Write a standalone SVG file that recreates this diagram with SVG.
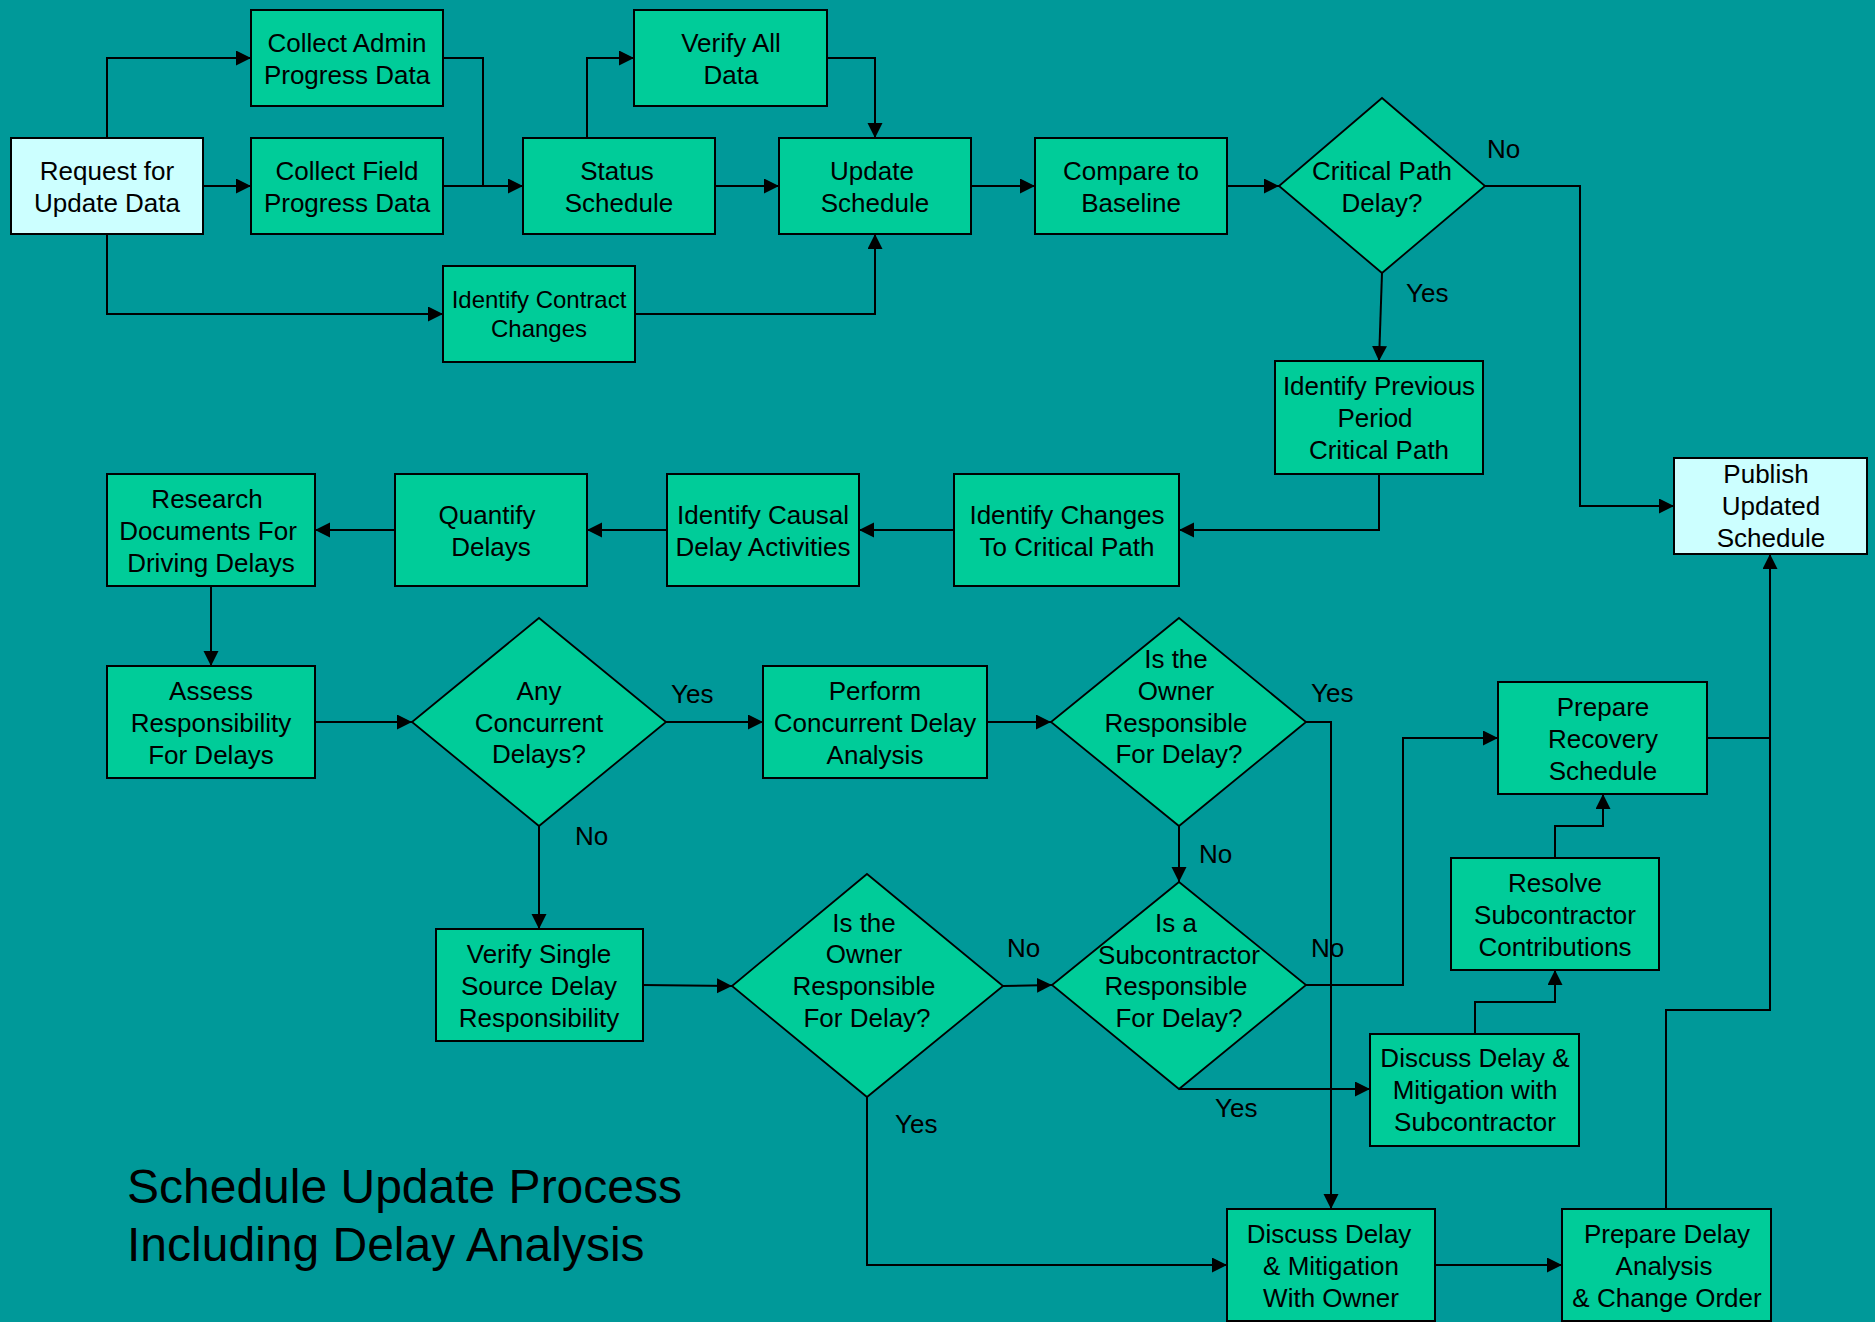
<svg xmlns="http://www.w3.org/2000/svg" width="1875" height="1322" viewBox="0 0 1875 1322">
<defs>
<marker id="ah" markerUnits="userSpaceOnUse" markerWidth="16" markerHeight="16" refX="15" refY="7.5" orient="auto">
<path d="M0,0 L15,7.5 L0,15 z" fill="#000"/>
</marker>
<style>
.box{fill:#00CC99;stroke:#000;stroke-width:2}
.lt{fill:#CCFFFF;stroke:#000;stroke-width:2}
.dia{fill:#00CC99;stroke:#000;stroke-width:1.8}
.t{font-family:"Liberation Sans",Arial,sans-serif;font-size:26px;fill:#000;text-anchor:middle}
.s{font-size:24px}
.lbl{font-family:"Liberation Sans",Arial,sans-serif;font-size:26px;fill:#000}
.title{font-family:"Liberation Sans",Arial,sans-serif;font-size:48px;fill:#000}
#connectors path{fill:none;stroke:#000;stroke-width:2}
#connectors path.a{marker-end:url(#ah)}
</style>
</defs>
<rect width="1875" height="1322" fill="#009999"/>

<g id="connectors">
<path class="a" d="M107,138 V58 H251"/>
<path class="a" d="M203,186 H251"/>
<path d="M443,58 H483 V186"/>
<path class="a" d="M443,186 H523"/>
<path class="a" d="M107,234 V314 H443"/>
<path class="a" d="M587,138 V58 H634"/>
<path class="a" d="M827,58 H875 V138"/>
<path class="a" d="M715,186 H779"/>
<path class="a" d="M635,314 H875 V234"/>
<path class="a" d="M971,186 H1035"/>
<path class="a" d="M1227,186 H1279"/>
<path class="a" d="M1382,273 L1379,361"/>
<path class="a" d="M1485,186 H1580 V506 H1674"/>
<path class="a" d="M1379,474 V530 H1179"/>
<path class="a" d="M954,530 H859"/>
<path class="a" d="M667,530 H587"/>
<path class="a" d="M395,530 H315"/>
<path class="a" d="M211,586 V666"/>
<path class="a" d="M315,722 H412"/>
<path class="a" d="M666,722 H763"/>
<path class="a" d="M539,826 V929"/>
<path class="a" d="M987,722 H1051"/>
<path class="a" d="M1306,722 H1331 V1209"/>
<path class="a" d="M1179,826 V882"/>
<path class="a" d="M643,985 L732,986"/>
<path class="a" d="M1003,986 L1052,985"/>
<path class="a" d="M867,1097 V1265 H1227"/>
<path class="a" d="M1306,985 H1403 V738 H1498"/>
<path class="a" d="M1179,1089 H1370"/>
<path class="a" d="M1475,1034 V1002 H1555 V970"/>
<path class="a" d="M1555,858 V826 H1603 V794"/>
<path d="M1707,738 H1770"/>
<path class="a" d="M1435,1265 H1562"/>
<path class="a" d="M1666,1209 V1010 H1770 V554"/>
</g>

<g id="request"><rect class="lt" x="11" y="138" width="192" height="96"/>
<text class="t" x="107" y="180">Request for</text><text class="t" x="107" y="212">Update Data</text></g>

<g id="collect-admin"><rect class="box" x="251" y="10" width="192" height="96"/>
<text class="t" x="347" y="52">Collect Admin</text><text class="t" x="347" y="84">Progress Data</text></g>

<g id="collect-field"><rect class="box" x="251" y="138" width="192" height="96"/>
<text class="t" x="347" y="180">Collect Field</text><text class="t" x="347" y="212">Progress Data</text></g>

<g id="identify-contract"><rect class="box" x="443" y="266" width="192" height="96"/>
<text class="t s" x="539" y="308">Identify Contract</text><text class="t s" x="539" y="337">Changes</text></g>

<g id="status"><rect class="box" x="523" y="138" width="192" height="96"/>
<text class="t" x="617" y="180">Status</text><text class="t" x="619" y="212">Schedule</text></g>

<g id="verify-all"><rect class="box" x="634" y="10" width="193" height="96"/>
<text class="t" x="731" y="52">Verify All</text><text class="t" x="731" y="84">Data</text></g>

<g id="update"><rect class="box" x="779" y="138" width="192" height="96"/>
<text class="t" x="872" y="180">Update</text><text class="t" x="875" y="212">Schedule</text></g>

<g id="compare"><rect class="box" x="1035" y="138" width="192" height="96"/>
<text class="t" x="1131" y="180">Compare to</text><text class="t" x="1131" y="212">Baseline</text></g>

<g id="critical"><polygon class="dia" points="1382,98 1485,186 1382,273 1279,186"/>
<text class="t" x="1382" y="180">Critical Path</text><text class="t" x="1382" y="212">Delay?</text></g>

<g id="identify-previous"><rect class="box" x="1275" y="361" width="208" height="113"/>
<text class="t" x="1379" y="395">Identify Previous</text><text class="t" x="1375" y="427">Period</text><text class="t" x="1379" y="459">Critical Path</text></g>

<g id="publish"><rect class="lt" x="1674" y="458" width="193" height="96"/>
<text class="t" x="1766" y="483">Publish</text><text class="t" x="1771" y="515">Updated</text><text class="t" x="1771" y="547">Schedule</text></g>

<g id="identify-changes"><rect class="box" x="954" y="474" width="225" height="112"/>
<text class="t" x="1067" y="524">Identify Changes</text><text class="t" x="1067" y="556">To Critical Path</text></g>

<g id="identify-causal"><rect class="box" x="667" y="474" width="192" height="112"/>
<text class="t" x="763" y="524">Identify Causal</text><text class="t" x="763" y="556">Delay Activities</text></g>

<g id="quantify"><rect class="box" x="395" y="474" width="192" height="112"/>
<text class="t" x="487" y="524">Quantify</text><text class="t" x="491" y="556">Delays</text></g>

<g id="research"><rect class="box" x="107" y="474" width="208" height="112"/>
<text class="t" x="207" y="508">Research</text><text class="t" x="208" y="540">Documents For</text><text class="t" x="211" y="572">Driving Delays</text></g>

<g id="assess"><rect class="box" x="107" y="666" width="208" height="112"/>
<text class="t" x="211" y="700">Assess</text><text class="t" x="211" y="732">Responsibility</text><text class="t" x="211" y="764">For Delays</text></g>

<g id="any-concurrent"><polygon class="dia" points="539,618 666,722 539,826 412,722"/>
<text class="t" x="539" y="700">Any</text><text class="t" x="539" y="732">Concurrent</text><text class="t" x="539" y="763">Delays?</text></g>

<g id="perform"><rect class="box" x="763" y="666" width="224" height="112"/>
<text class="t" x="875" y="700">Perform</text><text class="t" x="875" y="732">Concurrent Delay</text><text class="t" x="875" y="764">Analysis</text></g>

<g id="owner-top"><polygon class="dia" points="1179,618 1306,722 1179,826 1051,722"/>
<text class="t" x="1176" y="668">Is the</text><text class="t" x="1176" y="700">Owner</text><text class="t" x="1176" y="732">Responsible</text><text class="t" x="1179" y="763">For Delay?</text></g>

<g id="verify-single"><rect class="box" x="436" y="929" width="207" height="112"/>
<text class="t" x="539" y="963">Verify Single</text><text class="t" x="539" y="995">Source Delay</text><text class="t" x="539" y="1027">Responsibility</text></g>

<g id="owner-low"><polygon class="dia" points="867,874 1003,986 867,1097 732,986"/>
<text class="t" x="864" y="932">Is the</text><text class="t" x="864" y="963">Owner</text><text class="t" x="864" y="995">Responsible</text><text class="t" x="867" y="1027">For Delay?</text></g>

<g id="is-sub"><polygon class="dia" points="1179,882 1306,985 1179,1089 1052,985"/>
<text class="t" x="1176" y="932">Is a</text><text class="t" x="1179" y="964">Subcontractor</text><text class="t" x="1176" y="995">Responsible</text><text class="t" x="1179" y="1027">For Delay?</text></g>

<g id="prepare-recovery"><rect class="box" x="1498" y="682" width="209" height="112"/>
<text class="t" x="1603" y="716">Prepare</text><text class="t" x="1603" y="748">Recovery</text><text class="t" x="1603" y="780">Schedule</text></g>

<g id="resolve"><rect class="box" x="1451" y="858" width="208" height="112"/>
<text class="t" x="1555" y="892">Resolve</text><text class="t" x="1555" y="924">Subcontractor</text><text class="t" x="1555" y="956">Contributions</text></g>

<g id="discuss-sub"><rect class="box" x="1370" y="1034" width="209" height="112"/>
<text class="t" x="1475" y="1067">Discuss Delay &amp;</text><text class="t" x="1475" y="1099">Mitigation with</text><text class="t" x="1475" y="1131">Subcontractor</text></g>

<g id="discuss-owner"><rect class="box" x="1227" y="1209" width="208" height="112"/>
<text class="t" x="1329" y="1243">Discuss Delay</text><text class="t" x="1331" y="1275">&amp; Mitigation</text><text class="t" x="1331" y="1307">With Owner</text></g>

<g id="prepare-delay"><rect class="box" x="1562" y="1209" width="209" height="112"/>
<text class="t" x="1667" y="1243">Prepare Delay</text><text class="t" x="1664" y="1275">Analysis</text><text class="t" x="1667" y="1307">&amp; Change Order</text></g>

<g id="labels">
<text class="lbl" x="1487" y="158">No</text>
<text class="lbl" x="1406" y="302">Yes</text>
<text class="lbl" x="671" y="703">Yes</text>
<text class="lbl" x="575" y="845">No</text>
<text class="lbl" x="1311" y="702">Yes</text>
<text class="lbl" x="1199" y="863">No</text>
<text class="lbl" x="1007" y="957">No</text>
<text class="lbl" x="895" y="1133">Yes</text>
<text class="lbl" x="1311" y="957">No</text>
<text class="lbl" x="1215" y="1117">Yes</text>
</g>

<g id="title">
<text class="title" x="127" y="1203">Schedule Update Process</text>
<text class="title" x="127" y="1261">Including Delay Analysis</text>
</g>
</svg>
